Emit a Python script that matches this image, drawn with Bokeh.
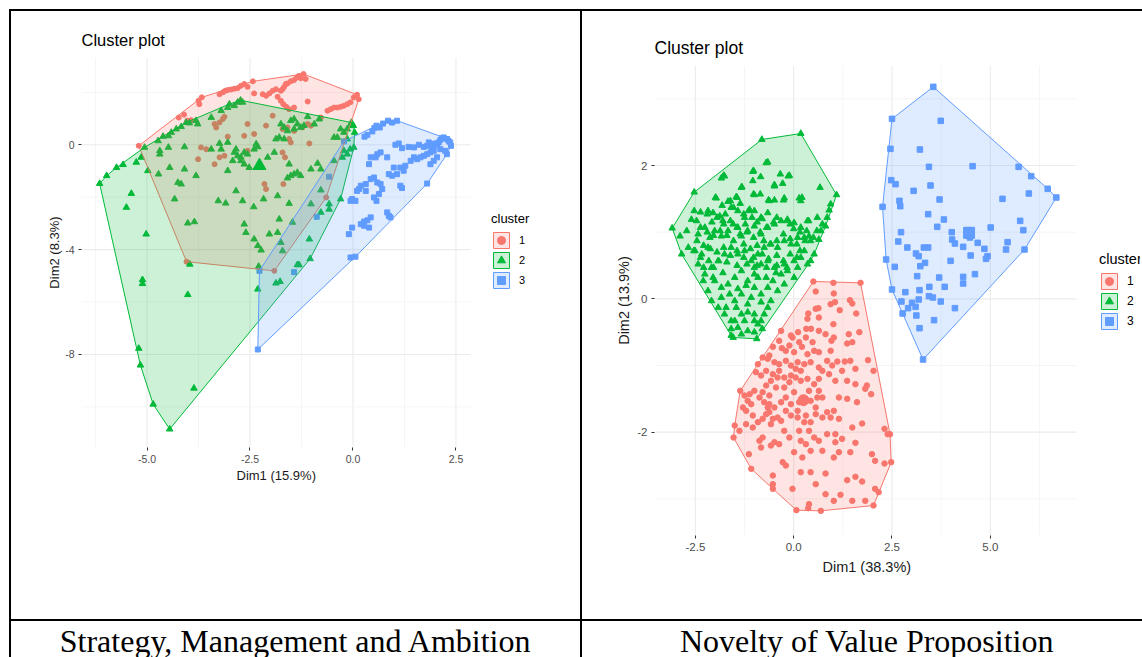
from bokeh.plotting import figure
from bokeh.models import (Range1d, FixedTicker, PrintfTickFormatter, Legend,
                          LegendItem, Div, Spacer, Title)
from bokeh.layouts import row, column
from bokeh.embed import file_html
from bokeh.resources import INLINE
from bokeh.core.properties import value

RED, GREEN, BLUE = "#F8766D", "#00BA38", "#619CFF"
FONT = "Liberation Sans"

captions = ["Strategy, Management and Ambition", "Novelty of Value Proposition"]
cluster_labels = ["1", "2", "3"]

# ---------------- Strategy, Management and Ambition ----------------
sma_xlabel = "Dim1 (15.9%)"
sma_ylabel = "Dim2 (8.3%)"
sma_x_ticks = [-5.0, -2.5, 0.0, 2.5]
sma_x_minor = [-6.25, -3.75, -1.25, 1.25]
sma_y_ticks = [-8, -4, 0]
sma_y_minor = [-10, -6, -2, 2]

sma_cluster1 = [
    (-5.20, -0.04), (-4.23, 1.04), (-4.10, 1.15), (-4.02, 0.92), (-3.93, 0.94),
    (-3.75, 1.68), (-3.73, 1.55), (-3.67, 1.81), (-3.24, 1.93), (-3.16, 2.00),
    (-3.10, 2.06), (-3.04, 2.09), (-2.96, 2.11), (-2.88, 2.14), (-2.80, 2.16),
    (-2.72, 2.25), (-2.64, 2.32), (-2.56, 2.21), (-2.43, 2.42), (-2.40, 1.96),
    (-2.19, 1.93), (-2.11, 1.87), (-2.03, 1.96), (-1.95, 2.06), (-1.87, 2.12),
    (-1.83, 1.83), (-1.75, 2.06), (-1.71, 2.12), (-1.67, 2.21), (-1.63, 2.32),
    (-1.59, 2.34), (-1.51, 2.42), (-1.43, 2.47), (-1.36, 2.57), (-1.31, 2.63),
    (-1.27, 2.54), (-1.20, 2.70), (-1.15, 2.51), (-1.75, 1.68), (-1.69, 1.55),
    (-1.62, 1.45), (-1.55, 1.36), (-1.43, 1.42), (-1.10, 1.65), (-0.62, 1.30),
    (-0.54, 1.36), (-0.46, 1.42), (-0.38, 1.42), (-0.30, 1.45), (-0.22, 1.49),
    (-0.14, 1.55), (-0.06, 1.62), (0.02, 1.81), (0.10, 1.91), (0.14, 1.74),
    (-0.78, 1.04), (-3.36, 0.79), (-3.32, 0.66), (-3.24, 0.85), (-3.16, 0.98),
    (-3.12, 1.07), (-2.56, 0.79), (-2.11, 0.73), (-1.95, 1.11), (-2.64, 0.34),
    (-2.40, 0.41), (-3.04, 0.31), (-1.71, 0.60), (-1.59, 0.66), (-1.55, 0.22),
    (-1.51, 0.09), (-1.43, 0.53), (-1.23, 0.66), (-1.10, 0.79), (-1.02, 0.73),
    (-3.69, -0.10), (-3.56, -0.17), (-3.76, -0.55), (-3.36, -0.74), (-3.24, -0.48),
    (-3.12, -0.42), (-2.56, -0.23), (-1.71, -0.29), (-1.65, -0.48), (-2.15, -1.50),
    (-2.11, -1.69), (-1.69, -1.50), (-1.06, 0.05), (-0.65, -2.01), (-4.04, -4.46),
    (-1.91, -4.81),
]

sma_cluster2 = [
    (-6.15, -1.48), (-5.98, -1.18), (-5.74, -0.87), (-5.58, -0.76), (-5.26, -0.67),
    (-5.14, -0.48), (-5.06, -0.10), (-4.73, 0.15), (-4.61, 0.32), (-4.48, 0.34),
    (-4.41, 0.47), (-4.29, 0.60), (-4.17, 0.69), (-4.05, 0.85), (-3.97, 0.83),
    (-3.81, 0.92), (-3.77, 0.79), (-3.44, 1.04), (-3.20, 1.30), (-3.04, 1.42),
    (-3.00, 1.55), (-2.88, 1.49), (-2.80, 1.62), (-2.73, 1.70), (-2.68, 1.62),
    (-1.75, 0.79), (-1.67, 0.66), (-1.59, 0.53), (-1.51, 0.92), (-1.43, 0.98),
    (-1.35, 0.79), (-1.27, 0.66), (-1.19, 0.73), (-1.10, 1.07), (-0.94, 0.79),
    (-0.82, 0.98), (-1.43, 0.60), (-0.46, 0.28), (-0.38, 0.28), (-0.30, 0.60),
    (-0.22, 0.47), (-0.14, 0.60), (-0.07, 0.73), (-0.04, 0.85), (0.01, 0.73),
    (0.04, 0.47), (-0.14, 0.22), (-0.07, -0.17), (-0.22, -0.23), (-0.14, -0.36),
    (-0.26, -0.48), (-0.46, -0.61), (0.02, -0.10), (-2.31, -0.08), (-2.35, 0.03),
    (-2.40, -0.17), (-2.56, -0.36), (-2.64, -0.29), (-2.72, -0.48), (-2.80, -0.42),
    (-2.88, -0.29), (-2.92, -0.61), (-3.04, -0.99), (-2.72, -0.61), (-2.64, -0.74),
    (-2.52, -0.87), (-2.07, -0.48), (-1.91, -0.29), (-1.87, 0.22), (-1.79, 0.28),
    (-1.67, 0.22), (-1.55, -0.74), (-1.51, -1.18), (-1.43, -1.12), (-1.35, -1.06),
    (-1.27, -1.18), (-1.59, -1.27), (-1.02, -0.93), (-0.86, -0.71), (-0.78, -0.93),
    (-4.69, -0.23), (-4.69, -0.36), (-4.48, -0.10), (-4.09, -0.08), (-4.45, -0.87),
    (-4.09, -0.93), (-4.17, -1.50), (-4.25, -1.44), (-4.33, -2.07), (-4.98, -0.99),
    (-4.72, -1.12), (-5.38, -1.86), (-5.50, -2.39), (-5.02, -3.41), (-4.01, -2.99),
    (-3.85, -2.94), (-3.44, -0.17), (-3.24, 0.05), (-3.20, -0.17), (-3.04, 0.09),
    (-2.84, -0.17), (-3.81, -1.18), (-3.27, -2.14), (-3.09, -2.23), (-2.84, -1.76),
    (-2.68, -2.14), (-2.41, -2.37), (-2.17, -2.07), (-1.83, -1.95), (-1.55, -2.24),
    (-2.64, -3.03), (-2.60, -3.35), (-2.40, -3.60), (-2.31, -3.85), (-2.23, -4.02),
    (-2.03, -3.41), (-1.83, -3.35), (-1.79, -2.84), (-1.75, -3.73), (-1.71, -4.05),
    (-0.78, -2.58), (-0.58, -2.46), (-0.58, -2.26), (-0.30, -2.07), (-0.78, -1.73),
    (-1.02, -2.26), (-1.47, -2.96), (-1.06, -3.60), (-3.96, -4.56), (-2.29, -4.64),
    (-2.31, -5.51), (-1.87, -5.28), (-1.77, -5.22), (-1.35, -4.58), (-1.31, -4.58),
    (-1.04, -4.35), (-5.11, -5.15), (-5.11, -5.30), (-4.01, -5.72), (-5.20, -7.77),
    (-5.16, -8.41), (-4.85, -9.90), (-4.45, -10.85), (-3.86, -9.29),
]

sma_cluster3 = [
    (0.28, 0.31), (0.35, 0.38), (0.47, 0.51), (0.52, 0.64), (0.57, 0.73),
    (0.65, 0.66), (0.73, 0.81), (0.85, 0.92), (0.95, 0.85), (1.07, 0.92),
    (1.03, 0.00), (1.11, 0.05), (1.19, -0.13), (1.35, -0.08), (1.48, -0.10),
    (1.60, 0.00), (1.72, -0.08), (1.80, -0.04), (1.84, 0.09), (1.88, 0.03),
    (1.92, -0.10), (1.96, -0.04), (2.00, 0.05), (2.04, 0.00), (2.08, 0.09),
    (2.12, 0.18), (2.16, 0.25), (2.20, 0.28), (2.28, 0.22), (2.32, 0.15),
    (2.36, 0.09), (2.38, -0.04), (1.96, -0.23), (1.88, -0.29), (1.80, -0.36),
    (1.72, -0.42), (1.64, -0.48), (1.56, -0.55), (1.48, -0.48), (1.40, -0.61),
    (2.12, -0.17), (2.24, -0.23), (2.28, -0.36), (2.04, -0.48), (1.96, -0.61),
    (1.88, -0.74), (1.15, -0.87), (1.23, -0.99), (1.27, -0.80), (0.99, -0.87),
    (1.07, -1.12), (0.87, -1.12), (0.59, -0.36), (0.67, -0.29), (0.55, -0.48),
    (0.43, -0.48), (0.83, -0.48), (0.39, -0.74), (0.51, -1.25), (0.43, -1.31),
    (0.31, -1.50), (0.19, -1.56), (0.15, -1.69), (0.10, -1.76), (-0.02, -2.07),
    (-0.06, -2.14), (0.06, -2.14), (0.59, -1.44), (0.67, -1.50), (0.71, -1.69),
    (0.63, -1.88), (0.57, -2.14), (0.51, -2.01), (0.31, -1.76), (0.95, -1.18),
    (1.15, -1.56), (1.19, -1.65), (1.80, -1.48), (0.19, -3.03), (0.27, -2.93),
    (0.35, -2.88), (0.43, -2.77), (0.39, -3.16), (0.27, -3.09), (0.83, -2.58),
    (0.87, -2.71), (0.91, -2.77), (-0.10, -3.41), (-0.02, -3.16), (-0.58, -1.22),
    (-0.22, 0.13), (-0.88, -2.75), (-2.31, -7.81), (-2.27, -4.81), (-1.43, -4.86),
    (-0.06, -4.30), (0.06, -4.27),
]

sma_centers = {2: (-2.27, -0.80)}

# ---------------- Novelty of Value Proposition ----------------
nvp_xlabel = "Dim1 (38.3%)"
nvp_ylabel = "Dim2 (13.9%)"
nvp_x_ticks = [-2.5, 0.0, 2.5, 5.0]
nvp_x_minor = [-1.25, 1.25, 3.75, 6.25]
nvp_y_ticks = [-2, 0, 2]
nvp_y_minor = [-3, -1, 1, 3]

nvp_cluster1 = [
    (0.50, 0.26), (1.01, 0.24), (1.70, 0.24), (0.56, 0.11), (1.02, 0.08),
    (1.05, -0.05), (0.94, -0.08), (1.43, -0.02), (1.49, -0.07), (0.63, -0.14),
    (0.56, -0.15), (0.37, -0.22), (1.17, -0.17), (1.59, -0.22), (0.35, -0.30),
    (0.64, -0.28), (1.01, -0.38), (-0.32, -0.48), (-0.07, -0.55), (0.11, -0.50),
    (0.32, -0.45), (0.44, -0.45), (0.64, -0.48), (1.02, -0.58), (0.96, -0.63),
    (1.40, -0.53), (1.49, -0.65), (1.36, -0.67), (1.67, -0.50), (-0.53, -0.72),
    (-0.30, -0.74), (-0.11, -0.70), (0.01, -0.80), (0.21, -0.72), (0.35, -0.83),
    (0.52, -0.78), (0.64, -0.80), (0.94, -0.78), (1.11, -0.94), (1.30, -0.94),
    (1.44, -0.93), (1.57, -1.05), (1.89, -0.92), (2.03, -1.08), (-0.62, -0.85),
    (-0.66, -0.90), (-0.49, -0.95), (-0.37, -0.98), (-0.20, -0.93), (-0.07, -1.00),
    (0.10, -0.95), (0.27, -0.98), (0.43, -0.95), (0.64, -1.03), (0.73, -1.08),
    (0.98, -1.00), (-0.96, -1.10), (-0.83, -1.15), (-0.70, -1.08), (-0.53, -1.13),
    (-0.37, -1.08), (-0.24, -1.18), (-0.07, -1.15), (0.05, -1.18), (0.18, -1.23),
    (0.35, -1.20), (0.52, -1.28), (0.64, -1.20), (1.06, -1.23), (1.36, -1.23),
    (1.57, -1.28), (1.82, -1.35), (1.97, -1.43), (1.86, -1.30), (-1.36, -1.38),
    (-1.25, -1.45), (-1.12, -1.43), (-1.00, -1.38), (-0.87, -1.48), (-0.75, -1.55),
    (-0.62, -1.58), (-0.49, -1.63), (-0.32, -1.55), (-0.20, -1.48), (0.01, -1.40),
    (0.22, -1.50), (0.43, -1.53), (0.60, -1.48), (0.85, -1.70), (1.02, -1.68),
    (1.36, -1.50), (1.61, -1.55), (-1.29, -1.63), (-1.21, -1.68), (-1.04, -1.75),
    (-0.70, -1.73), (-0.53, -1.80), (-0.32, -1.83), (-0.07, -1.75), (0.10, -1.68),
    (0.31, -1.75), (0.56, -1.73), (0.73, -1.78), (0.94, -1.78), (1.15, -1.80),
    (1.74, -1.87), (1.49, -1.93), (-1.50, -1.90), (-1.53, -2.08), (-1.38, -1.98),
    (-1.21, -1.88), (-0.79, -2.08), (-0.49, -2.15), (-0.11, -2.08), (0.14, -1.98),
    (0.39, -1.98), (0.52, -2.08), (0.64, -2.13), (0.85, -2.03), (1.06, -2.03),
    (1.23, -2.10), (1.57, -2.16), (2.31, -1.95), (2.39, -2.03), (2.45, -2.03),
    (-1.14, -2.33), (-0.83, -2.23), (-0.58, -2.20), (-0.28, -2.45), (-0.20, -2.50),
    (0.01, -2.30), (0.22, -2.38), (0.43, -2.28), (0.73, -2.28), (1.02, -2.38),
    (1.15, -2.30), (1.44, -2.30), (1.99, -2.33), (2.07, -2.43), (2.31, -2.47),
    (2.48, -2.45), (-1.08, -2.55), (-0.53, -2.65), (-0.53, -2.78), (-0.53, -2.85),
    (-0.03, -2.85), (0.18, -2.60), (0.43, -2.60), (0.56, -2.78), (0.81, -2.62),
    (1.36, -2.72), (1.57, -2.67), (1.74, -2.74), (2.07, -2.85), (2.16, -2.90),
    (0.07, -3.17), (0.37, -3.14), (0.39, -3.08), (0.69, -3.18), (0.81, -2.93),
    (1.02, -3.03), (1.19, -2.94), (1.49, -3.03), (1.82, -3.03), (2.03, -3.10),
    (-0.79, -0.88), (-0.91, -0.98), (-0.70, -1.30), (-0.58, -1.23), (-0.45, -1.33),
    (-0.41, -1.18), (-0.24, -1.33), (-0.11, -1.25), (-0.79, -1.40), (-0.62, -1.45),
    (-0.66, -1.63), (-0.62, -1.70), (-0.79, -1.80), (-0.91, -1.85), (-0.58, -1.88),
    (-0.41, -1.78), (-0.20, -1.68), (-0.07, -1.58), (0.14, -1.55), (0.10, -1.78),
    (0.27, -1.85), (0.43, -1.85), (0.56, -1.63), (0.64, -1.38), (0.39, -1.38),
    (0.18, -1.08), (0.05, -1.05), (-0.20, -0.78), (-0.37, -0.63), (-0.03, -0.58),
    (0.14, -0.65), (0.31, -0.58), (0.48, -0.65), (0.81, -0.53), (0.85, -0.93),
    (0.90, -1.13), (1.23, -1.08), (1.15, -1.48), (0.73, -1.48), (-1.08, -1.58),
    (-1.17, -1.53), (-1.04, -1.93), (-0.87, -2.13), (-0.37, -2.18), (0.18, -2.13),
    (-0.24, -1.98), (0.31, -2.18), (1.06, -2.15),
]

nvp_cluster2 = [
    (-0.81, 2.39), (0.18, 2.48), (-0.70, 2.04), (-1.04, 1.91), (-0.84, 1.83),
    (-0.34, 1.87), (-0.14, 1.84), (-1.76, 1.84), (-1.84, 1.81), (-1.04, 1.77),
    (-1.33, 1.67), (-0.49, 1.69), (-0.28, 1.73), (0.67, 1.67), (1.09, 1.56),
    (-1.97, 1.51), (-1.67, 1.46), (-1.46, 1.53), (-1.00, 1.56), (-0.62, 1.47),
    (-0.49, 1.48), (-0.24, 1.51), (0.14, 1.51), (0.18, 1.47), (0.94, 1.42),
    (0.90, 1.33), (0.85, 1.22), (-3.09, 1.06), (-2.53, 1.60), (-2.60, 1.19),
    (-2.47, 1.17), (-2.18, 1.32), (-2.05, 1.29), (-1.88, 1.24), (-1.80, 1.17),
    (-1.59, 1.37), (-1.42, 1.32), (-1.25, 1.22), (-1.12, 1.34), (-1.00, 1.32),
    (-0.83, 1.22), (-0.66, 1.29), (-2.89, 0.94), (-2.72, 1.02), (-2.85, 0.67),
    (-2.68, 0.77), (-2.51, 0.72), (-2.43, 0.97), (-2.26, 1.07), (-2.13, 0.92),
    (-2.01, 1.02), (-1.84, 0.94), (-1.67, 1.02), (-1.54, 1.12), (-1.42, 1.07),
    (-1.33, 0.94), (-1.17, 1.02), (-1.00, 1.09), (-0.83, 0.97), (-0.66, 1.07),
    (-0.49, 1.12), (-0.32, 1.17), (-0.16, 1.19), (0.01, 1.14), (0.18, 1.07),
    (0.35, 1.17), (0.60, 1.22), (0.81, 1.09), (0.43, 0.87), (0.27, 0.92),
    (0.10, 0.92), (-0.07, 0.82), (-0.24, 0.87), (-0.41, 0.77), (-0.58, 0.82),
    (-0.75, 0.77), (-0.91, 0.67), (-1.08, 0.57), (-1.25, 0.72), (-1.42, 0.67),
    (-1.59, 0.77), (-1.76, 0.67), (-1.92, 0.57), (-2.09, 0.47), (-2.26, 0.37),
    (-2.43, 0.52), (-2.34, 0.67), (-2.18, 0.77), (-1.00, 0.47), (-0.83, 0.52),
    (-0.66, 0.57), (-0.49, 0.47), (-0.32, 0.37), (-0.16, 0.42), (0.01, 0.57),
    (0.18, 0.62), (0.35, 0.52), (0.43, 0.57), (0.52, 0.67), (-1.33, 0.42),
    (-1.50, 0.32), (-1.67, 0.22), (-1.84, 0.17), (-2.01, 0.27), (-2.18, 0.12),
    (-2.09, -0.03), (-1.92, -0.13), (-1.76, -0.23), (-1.59, -0.33), (-1.42, -0.43),
    (-1.17, -0.48), (-0.91, -0.38), (-0.75, -0.23), (-0.58, -0.03), (-0.41, 0.12),
    (-0.24, 0.22), (0.01, 0.32), (-0.66, 0.17), (-0.83, 0.07), (-1.00, 0.17),
    (-1.17, 0.27), (-1.33, 0.07), (-1.50, -0.03), (-1.00, 0.37), (-0.91, 0.32),
    (-1.17, -0.08), (-1.33, -0.23), (-1.00, -0.23), (-0.80, -0.45), (-1.59, -0.55),
    (0.10, 0.47), (0.27, 0.72), (0.69, 1.02), (0.73, 1.12), (0.39, 0.94),
    (0.64, 0.89), (-1.54, -0.58), (-0.94, -0.60),
    (-1.78, 1.85), (-1.02, 1.92), (-0.66, 2.05), (-0.11, 1.85), (-0.49, 1.71),
    (-1.32, 1.68), (-1.02, 1.57), (-0.85, 1.57), (-0.64, 1.48), (-0.26, 1.48),
    (0.21, 1.52), (-2.53, 1.32), (-2.37, 1.30), (-2.20, 1.27), (-1.99, 1.52),
    (-1.82, 1.40), (-1.61, 1.47), (-1.44, 1.52), (-1.36, 1.43), (-1.53, 1.37),
    (-1.74, 1.27), (-1.95, 1.22), (-2.08, 1.15), (-1.78, 1.12), (-1.61, 1.17),
    (-1.27, 1.27), (-1.15, 1.32), (-1.06, 1.22), (-0.93, 1.15), (-0.80, 1.20),
    (-1.23, 1.12), (-1.44, 1.07), (-1.36, 0.97), (-1.19, 1.00), (-1.02, 0.92),
    (-0.85, 1.00), (-0.69, 1.07), (-0.51, 1.15), (-0.43, 1.22), (-0.17, 1.17),
    (-0.09, 1.12), (0.00, 1.05), (0.16, 1.00), (0.33, 1.02), (0.38, 1.17),
    (0.50, 0.92), (0.59, 1.02), (0.29, 0.87), (0.08, 0.82), (-0.09, 0.90),
    (-0.26, 0.97), (-0.43, 0.87), (-0.60, 0.82), (-0.76, 0.87), (-0.93, 0.80),
    (-1.10, 0.75), (-1.27, 0.82), (-1.53, 0.87), (-1.70, 0.95), (-1.87, 1.02),
    (-2.04, 0.95), (-2.20, 1.00), (-2.37, 1.07), (-2.46, 0.87), (-2.29, 0.80),
    (-2.12, 0.75), (-1.95, 0.70), (-1.78, 0.77), (-1.61, 0.65), (-1.44, 0.72),
    (-1.27, 0.62), (-1.02, 0.62), (-0.80, 0.67), (-0.64, 0.60), (-0.43, 0.65),
    (-0.26, 0.57), (-0.09, 0.67), (0.08, 0.62), (0.16, 0.72), (-0.17, 0.47),
    (-0.43, 0.50), (-0.69, 0.47), (-0.93, 0.50), (-1.19, 0.52), (-1.44, 0.50),
    (-1.70, 0.55), (-1.91, 0.57), (-2.16, 0.57), (-2.37, 0.62), (-2.54, 0.72),
    (-2.29, 0.47), (-2.04, 0.47), (-2.30, 0.27), (-2.05, 0.32), (-1.80, 0.39),
    (-1.63, 0.07), (-1.42, 0.15), (-1.21, 0.20), (-1.08, 0.02), (-0.83, -0.05),
    (-0.70, 0.32), (-0.53, 0.27), (-0.45, 0.39), (-0.24, 0.52), (-1.84, 0.02),
    (-1.72, -0.13), (-1.46, -0.13), (-1.25, -0.33), (-1.00, -0.33), (-0.83, -0.33),
    (-1.50, -0.33), (-1.17, -0.20), (-0.66, -0.13), (-1.59, -0.45), (-1.00, -0.50),
    (-1.33, -0.53),
]

nvp_cluster3 = [
    (3.55, 3.18), (2.50, 2.70), (3.74, 2.67), (3.21, 2.24), (2.46, 2.25),
    (3.44, 1.98), (4.55, 1.99), (5.72, 1.98), (6.04, 1.84), (2.48, 1.78),
    (2.59, 1.72), (3.48, 1.70), (3.05, 1.62), (6.46, 1.65), (6.68, 1.52),
    (5.98, 1.58), (5.31, 1.50), (2.69, 1.47), (2.71, 1.39), (2.26, 1.38),
    (3.71, 1.49), (3.42, 1.27), (3.82, 1.19), (3.65, 1.08), (5.76, 1.17),
    (5.84, 1.03), (5.01, 1.07), (2.73, 1.00), (2.66, 0.86), (2.89, 0.77),
    (4.02, 1.00), (4.03, 0.89), (4.10, 0.83), (4.31, 0.78), (4.46, 1.03),
    (4.48, 0.92), (4.68, 0.84), (4.85, 0.75), (4.93, 0.64), (4.89, 0.60),
    (5.44, 0.85), (5.40, 0.74), (5.87, 0.74), (3.31, 0.77), (3.42, 0.77),
    (3.11, 0.68), (3.18, 0.64), (3.34, 0.54), (3.22, 0.49), (2.35, 0.59),
    (2.57, 0.48), (3.99, 0.57), (4.50, 0.65), (3.14, 0.34), (3.70, 0.32),
    (4.31, 0.33), (4.31, 0.23), (4.61, 0.37), (2.50, 0.14), (2.84, 0.10),
    (3.20, 0.13), (3.45, 0.18), (3.84, 0.18), (2.74, -0.04), (3.01, -0.06),
    (3.18, -0.01), (3.44, 0.04), (3.54, 0.02), (3.74, -0.04), (2.91, -0.14),
    (3.10, -0.12), (2.77, -0.22), (3.12, -0.25), (3.57, -0.32), (4.10, -0.14),
    (3.20, -0.44), (3.29, -0.91),
]

nvp_centers = {1: (0.25, -1.52), 3: (4.46, 0.99)}


def convex_hull(points):
    """Monotone-chain convex hull, returned as two coordinate lists."""
    pts = sorted(set(points))

    def cross(o, a, b):
        return (a[0] - o[0]) * (b[1] - o[1]) - (a[1] - o[1]) * (b[0] - o[0])

    lower, upper = [], []
    for pt in pts:
        while len(lower) >= 2 and cross(lower[-2], lower[-1], pt) <= 0:
            lower.pop()
        lower.append(pt)
    for pt in reversed(pts):
        while len(upper) >= 2 and cross(upper[-2], upper[-1], pt) <= 0:
            upper.pop()
        upper.append(pt)
    hull = lower[:-1] + upper[:-1]
    return [h[0] for h in hull], [h[1] for h in hull]


def cluster_panel(cfg):
    bl, br, bt, bb = cfg["borders"]
    px0, px1 = cfg["panel_x"]          # extent of the gridded panel
    y0, y1 = cfg["yr"]
    p = figure(frame_width=cfg["frame"][0], frame_height=cfg["frame"][1],
               x_range=Range1d(*cfg["xr"]), y_range=Range1d(y0, y1),
               output_backend="svg", toolbar_location=None, title="Cluster plot",
               min_border_left=bl, min_border_right=br,
               min_border_top=bt, min_border_bottom=bb, frame_align=False)
    p.outline_line_color = None
    p.background_fill_color = "white"
    p.border_fill_color = "white"
    p.grid.visible = False

    fs = cfg["fonts"]
    p.title.text_font = FONT
    p.title.text_font_size = fs["title"]
    p.title.text_font_style = "normal"
    p.title.text_color = "#000000"
    p.title.align = "left"
    p.title.standoff = cfg["title_standoff"]

    # panel grid (major + minor), confined to the panel area
    for ticks, color, width in ((cfg["xm"], "#F2F2F2", 0.8), (cfg["xt"], "#EBEBEB", 1.1)):
        p.segment(x0=ticks, y0=[y0] * len(ticks), x1=ticks, y1=[y1] * len(ticks),
                  line_color=color, line_width=width)
    for ticks, color, width in ((cfg["ym"], "#F2F2F2", 0.8), (cfg["yt"], "#EBEBEB", 1.1)):
        p.segment(x0=[px0] * len(ticks), y0=ticks, x1=[px1] * len(ticks), y1=ticks,
                  line_color=color, line_width=width)

    p.xaxis.ticker = FixedTicker(ticks=cfg["xt"])
    p.yaxis.ticker = FixedTicker(ticks=cfg["yt"])
    p.xaxis.bounds = (px0, px1)
    p.xaxis.formatter = PrintfTickFormatter(format="%.1f")
    p.yaxis.formatter = PrintfTickFormatter(format="%d")
    p.yaxis.axis_label = cfg["ylabel"]
    for ax in (p.xaxis, p.yaxis):
        ax.axis_line_color = None
        ax.major_tick_line_color = "#333333"
        ax.major_tick_in = 0
        ax.major_tick_out = 3
        ax.minor_tick_line_color = None
        ax.major_label_text_font = FONT
        ax.major_label_text_font_size = fs["tick"]
        ax.major_label_text_color = "#4D4D4D"
        ax.major_label_standoff = 4
        ax.axis_label_text_font = FONT
        ax.axis_label_text_font_size = fs["axis"]
        ax.axis_label_text_font_style = "normal"
        ax.axis_label_text_color = "#1A1A1A"
    p.yaxis.axis_label_standoff = cfg["ylabel_standoff"]

    # x-axis title, placed under the gridded panel rather than the whole frame
    xtitle = Title(text=cfg["xlabel"], align="left", offset=cfg["xlabel_offset"],
                   standoff=cfg["xlabel_standoff"], text_font=FONT,
                   text_font_size=fs["axis"], text_font_style="normal",
                   text_color="#1A1A1A")
    p.add_layout(xtitle, "below")

    colors = [RED, GREEN, BLUE]
    markers = ["circle", "triangle", "square"]
    sizes = cfg["sizes"]
    scat, patches = [], []
    for k, pts in enumerate(cfg["clusters"]):
        xs = [a for a, b in pts]
        ys = [b for a, b in pts]
        scat.append(p.scatter(xs, ys, marker=markers[k], size=sizes[k],
                              fill_color=colors[k], line_color=colors[k]))
    for k, pts in enumerate(cfg["clusters"]):
        hx, hy = convex_hull(pts)
        patches.append(p.patch(hx, hy, fill_color=colors[k], fill_alpha=0.2,
                               line_color=colors[k], line_width=1))
    for k, (cx, cy) in cfg["centers"].items():
        p.scatter([cx], [cy], marker=markers[k - 1], size=sizes[k - 1] * 2,
                  fill_color=colors[k - 1], line_color=colors[k - 1])

    items = [LegendItem(label=cluster_labels[k], renderers=[patches[k], scat[k]])
             for k in range(3)]
    legend = Legend(items=items, title="cluster", location=cfg["legend_at"],
                    orientation="vertical")
    legend.title_text_font = FONT
    legend.title_text_font_size = fs["legend_title"]
    legend.title_text_font_style = "normal"
    legend.title_text_color = "#000000"
    legend.title_standoff = 4
    legend.label_text_font = FONT
    legend.label_text_font_size = fs["legend_label"]
    legend.label_text_color = "#000000"
    legend.glyph_width = cfg["key"][0]
    legend.glyph_height = cfg["key"][1]
    legend.label_height = cfg["key"][1]
    legend.label_width = 10
    legend.spacing = 0
    legend.padding = 0
    legend.margin = 0
    legend.label_standoff = 8
    legend.border_line_color = None
    legend.background_fill_alpha = 0
    p.add_layout(legend)
    return p


left = cluster_panel(dict(
    frame=(489, 390), xr=(-6.59, 5.28), panel_x=(-6.59, 2.85), yr=(-11.55, 3.33),
    borders=(70, 10, 46, 172), title_standoff=18,
    xlabel_standoff=0, xlabel_offset=155, ylabel_standoff=0,
    fonts=dict(title="16.5px", tick="10.5px", axis="13px",
               legend_title="13px", legend_label="11px"),
    xt=sma_x_ticks, xm=sma_x_minor, yt=sma_y_ticks, ym=sma_y_minor,
    xlabel=sma_xlabel, ylabel=sma_ylabel,
    clusters=[sma_cluster1, sma_cluster2, sma_cluster3], centers=sma_centers,
    sizes=[5, 6.5, 5], key=(20, 20), legend_at=(410, 157)))

right = cluster_panel(dict(
    frame=(486, 470), xr=(-3.54, 8.82), panel_x=(-3.54, 7.19), yr=(-3.55, 3.50),
    borders=(72, 2, 54, 84), title_standoff=15,
    xlabel_standoff=6, xlabel_offset=168, ylabel_standoff=2,
    fonts=dict(title="17.5px", tick="11.5px", axis="14.5px",
               legend_title="14.5px", legend_label="12px"),
    xt=nvp_x_ticks, xm=nvp_x_minor, yt=nvp_y_ticks, ym=nvp_y_minor,
    xlabel=nvp_xlabel, ylabel=nvp_ylabel,
    clusters=[nvp_cluster1, nvp_cluster2, nvp_cluster3], centers=nvp_centers,
    sizes=[5.5, 6.5, 5.5], key=(20, 20), legend_at=(445, 204)))


def caption_panel(text, width, xpos):
    c = figure(frame_width=width, frame_height=36, x_range=Range1d(0, 1),
               y_range=Range1d(0, 1), title=None, frame_align=False,
               x_axis_location=None, y_axis_location=None,
               output_backend="svg", toolbar_location=None,
               min_border_left=0, min_border_right=0, min_border_top=0,
               min_border_bottom=0)
    c.grid.visible = False
    c.outline_line_color = None
    c.text(x=[xpos], y=[0.45], text=[text], text_font=value("Liberation Serif"),
           text_font_size="32px", text_align="center", text_baseline="middle",
           text_color="#000000")
    return c


def rule(w, h):
    return Div(text="", width=w, height=h, margin=0,
               styles={"background-color": "#000000"})


def gap(w, h):
    return Spacer(width=w, height=h, margin=0)


cap_left = caption_panel(captions[0], 569, 0.5)
cap_right = caption_panel(captions[1], 560, 0.508)

page = column(
    gap(1142, 9),
    row(gap(9, 2), rule(1133, 2)),
    row(gap(9, 608), rule(2, 608), left, rule(2, 608), right),
    row(gap(9, 2), rule(1133, 2)),
    row(gap(9, 36), rule(2, 36), cap_left, rule(2, 36), cap_right),
)

open("out.html", "w").write(file_html(page, INLINE))
